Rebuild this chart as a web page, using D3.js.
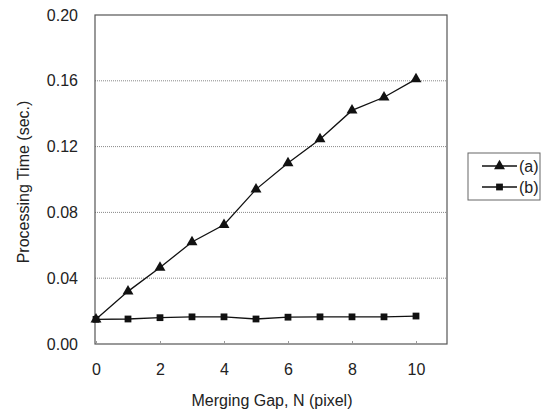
<!DOCTYPE html>
<html><head><meta charset="utf-8">
<script src="https://cdn.jsdelivr.net/npm/d3@7"></script>
<style>body{margin:0;background:#fff}svg{display:block}text{font-family:"Liberation Sans",Arial,sans-serif;fill:#222}</style>
</head><body><svg width="552" height="412"></svg>
<script>
const xs = [0,1,2,3,4,5,6,7,8,9,10];
const seriesA = [0.015,0.032,0.0465,0.062,0.0725,0.094,0.110,0.1245,0.142,0.150,0.161];
const seriesB = [0.015,0.0152,0.016,0.0165,0.0165,0.0152,0.0163,0.0165,0.0165,0.0165,0.017];
const xTicks = [0,2,4,6,8,10];
const yTicks = [0,0.04,0.08,0.12,0.16,0.20];
const names = ["(a)","(b)"];

const svg = d3.select("svg");
const L=95, R=447, T=15, B=344;
const x = d3.scaleLinear().domain([0,11]).range([96, 96+32*11]);
const y = d3.scaleLinear().domain([0,0.20]).range([B,T]);

// grid
svg.append("g").selectAll("line").data(yTicks.slice(1,-1)).join("line")
  .attr("x1",L).attr("x2",R).attr("y1",d=>y(d)).attr("y2",d=>y(d))
  .attr("stroke","#888").attr("stroke-dasharray","1,1").attr("stroke-width",1);
// border
svg.append("rect").attr("x",L).attr("y",T).attr("width",R-L).attr("height",B-T)
  .attr("fill","none").attr("stroke","#555").attr("stroke-width",1.2);

// axes
const yAxis = d3.axisLeft(y).tickValues(yTicks).tickFormat(d3.format(".2f")).tickSize(0).tickPadding(17);
const gy = svg.append("g").attr("transform",`translate(${L},0)`).call(yAxis);
gy.select(".domain").remove();
gy.selectAll("text").style("font-size","16px");
const xAxis = d3.axisBottom(x).tickValues(xTicks).tickFormat(d3.format("d")).tickSize(-3).tickPadding(20);
const gx = svg.append("g").attr("transform",`translate(0,${B})`).call(xAxis);
gx.select(".domain").remove();
gx.selectAll("line").attr("stroke","#999");
gx.selectAll("text").style("font-size","16px");

svg.append("text").attr("transform","translate(29,182) rotate(-90)").attr("text-anchor","middle")
  .style("font-size","16px").text("Processing Time (sec.)");
svg.append("text").attr("x",272).attr("y",406).attr("text-anchor","middle")
  .style("font-size","16px").text("Merging Gap, N (pixel)");

const line = d3.line().x((d,i)=>x(xs[i])).y(d=>y(d));
const tri = d3.symbol().type(d3.symbolTriangle).size(52);
const sq = d3.symbol().type(d3.symbolSquare).size(46);
[[seriesA,tri],[seriesB,sq]].forEach(([s,sym])=>{
  svg.append("path").datum(s).attr("d",line).attr("fill","none").attr("stroke","#111").attr("stroke-width",1.3);
  svg.append("g").selectAll("path").data(s).join("path")
    .attr("transform",(d,i)=>`translate(${x(xs[i])},${y(d)})`).attr("d",sym).attr("fill","#111");
});

// legend
const lg = svg.append("g");
lg.append("rect").attr("x",468).attr("y",153).attr("width",72).attr("height",47)
  .attr("fill","#fff").attr("stroke","#666").attr("stroke-width",1);
[tri,sq].forEach((sym,i)=>{
  const yy = 166+i*21;
  lg.append("line").attr("x1",482).attr("x2",517).attr("y1",yy).attr("y2",yy).attr("stroke","#111").attr("stroke-width",1.3);
  lg.append("path").attr("transform",`translate(499.5,${yy})`).attr("d",sym).attr("fill","#111");
  lg.append("text").attr("x",519).attr("y",yy+6).style("font-size","16px").text(names[i]);
});
</script></body></html>
